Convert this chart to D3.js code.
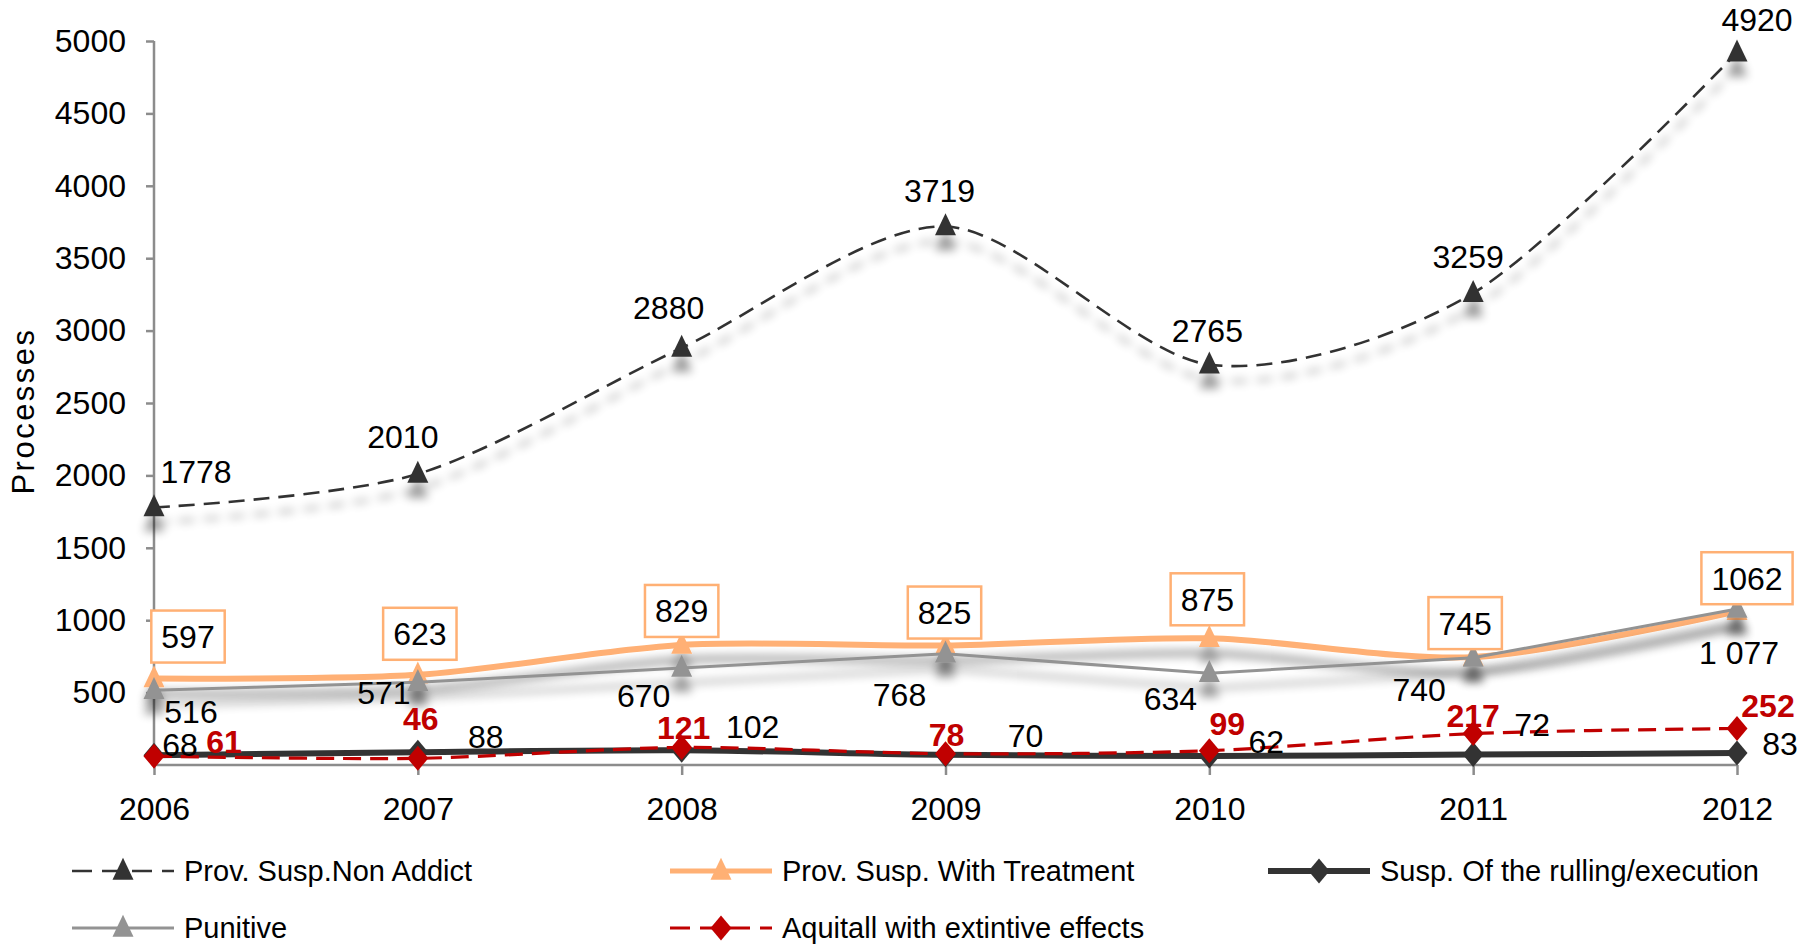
<!DOCTYPE html>
<html>
<head>
<meta charset="utf-8">
<script src="https://cdn.jsdelivr.net/npm/d3@7/dist/d3.min.js"></script>
<style>
  html, body { margin: 0; padding: 0; background: #fff; }
  svg { display: block; font-family: "Liberation Sans", Arial, sans-serif; }
</style>
</head>
<body>
<svg id="chart" width="1811" height="944"></svg>
<script>
// ---------- data ----------
const years = ["2006", "2007", "2008", "2009", "2010", "2011", "2012"];
const nonAddict = [1778, 2010, 2880, 3719, 2765, 3259, 4920];
const withTreatment = [597, 623, 829, 825, 875, 745, 1062];
const rulling = [68, 88, 102, 70, 62, 72, 83];
const punitive = [516, 571, 670, 768, 634, 740, 1077];
const punitiveLabels = ["516", "571", "670", "768", "634", "740", "1 077"];
const aquitall = [61, 46, 121, 78, 99, 217, 252];
const yTicks = [500, 1000, 1500, 2000, 2500, 3000, 3500, 4000, 4500, 5000];
const seriesNames = ["Prov. Susp.Non Addict", "Prov. Susp. With Treatment", "Susp. Of the rulling/execution", "Punitive", "Aquitall with extintive effects"];

// ---------- label placement (offsets from the point, px) ----------
const nonAddictNudge = [[42, -36], [-15, -37], [-13, -40], [-6, -36], [-2, -34], [-5, -37], [20, -33]];
const treatmentNudge = [[34, -42], [2, -41], [0, -34], [-1, -33], [-2, -39], [-8, -34], [10, -33]];
const punitiveNudge = [[37, 21], [-34, 10], [-38, 27], [-46, 41], [-39, 25], [-54, 32], [2, 43]];
const rullingNudge = [[26, -11], [68, -16], [71, -24], [80, -19], [57, -15], [59, -30], [43, -10]];
const aquitallNudge = [[70, -15], [3, -40], [2, -20], [1, -19], [18, -27], [0, -18], [31, -23]];

// ---------- setup ----------
const svg = d3.select("#chart");
const x = d3.scalePoint().domain(years).range([154, 1737]);
const y = d3.scaleLinear().domain([0, 5000]).range([765, 41]);

const defs = svg.append("defs");
const f = defs.append("filter").attr("id", "shadow")
  .attr("x", "-10%").attr("y", "-20%").attr("width", "120%").attr("height", "160%");
f.append("feGaussianBlur").attr("in", "SourceAlpha").attr("stdDeviation", 5).attr("result", "b");
f.append("feOffset").attr("in", "b").attr("dy", 15).attr("result", "o");
const ct = f.append("feComponentTransfer").attr("in", "o").attr("result", "s");
ct.append("feFuncA").attr("type", "linear").attr("slope", 0.4);
const fm = f.append("feMerge");
fm.append("feMergeNode").attr("in", "s");
fm.append("feMergeNode").attr("in", "SourceGraphic");

const COL = {
  dark: "#333333",
  orange: "#FFB074",
  gray: "#939393",
  red: "#C00000"
};

function triPath(cx, cy, w, h) {
  return `M${cx},${cy - h * 0.6}L${cx + w / 2},${cy + h * 0.4}L${cx - w / 2},${cy + h * 0.4}Z`;
}
function diaPath(cx, cy, w, h) {
  return `M${cx},${cy - h / 2}L${cx + w / 2},${cy}L${cx},${cy + h / 2}L${cx - w / 2},${cy}Z`;
}

// ---------- axes ----------
const yAxis = d3.axisLeft(y).tickValues(yTicks).tickSize(8).tickPadding(20).tickFormat(d3.format("d"));
const gy = svg.append("g").attr("transform", "translate(154,0)").call(yAxis);
gy.select(".domain").attr("stroke", "#8c8c8c").attr("stroke-width", 2.5).attr("d", `M0,${y(5000)}V${y(0)}`);
gy.selectAll(".tick line").attr("stroke", "#8c8c8c").attr("stroke-width", 2.5);
gy.selectAll(".tick text").attr("fill", "#000").attr("font-size", 32).attr("font-family", "Liberation Sans, Arial, sans-serif");

const xAxis = d3.axisBottom(x).tickSize(10).tickPadding(22);
const gx = svg.append("g").attr("transform", `translate(0,${y(0)})`).call(xAxis);
gx.select(".domain").attr("stroke", "#8c8c8c").attr("stroke-width", 2.5).attr("d", `M${x("2006")},0H${x("2012")}`);
gx.selectAll(".tick line").attr("stroke", "#8c8c8c").attr("stroke-width", 2.5);
gx.selectAll(".tick text").attr("fill", "#000").attr("font-size", 32).attr("font-family", "Liberation Sans, Arial, sans-serif");

svg.append("text")
  .attr("transform", `translate(34,411) rotate(-90)`)
  .attr("text-anchor", "middle")
  .attr("font-size", 31)
  .attr("letter-spacing", 2.5)
  .attr("fill", "#000")
  .text("Processes");

// ---------- lines ----------
const smooth = d3.line().x((d, i) => x(years[i])).y(d => y(d)).curve(d3.curveCardinal.tension(0.15));
const straight = d3.line().x((d, i) => x(years[i])).y(d => y(d));

const plot = svg.append("g");

// Non addict
const gNA = plot.append("g").attr("filter", "url(#shadow)");
gNA.append("path").attr("d", smooth(nonAddict)).attr("fill", "none")
  .attr("stroke", COL.dark).attr("stroke-width", 2.6).attr("stroke-dasharray", "16,9");
gNA.selectAll("path.m").data(nonAddict).join("path").attr("class", "m")
  .attr("d", (d, i) => triPath(x(years[i]), y(d), 21, 22)).attr("fill", COL.dark);

// With treatment
const gWT = plot.append("g").attr("filter", "url(#shadow)");
gWT.append("path").attr("d", smooth(withTreatment)).attr("fill", "none")
  .attr("stroke", COL.orange).attr("stroke-width", 6);
gWT.selectAll("path.m").data(withTreatment).join("path").attr("class", "m")
  .attr("d", (d, i) => triPath(x(years[i]), y(d), 21, 22)).attr("fill", COL.orange);

// Rulling
const gR = plot.append("g");
gR.append("path").attr("d", smooth(rulling)).attr("fill", "none")
  .attr("stroke", COL.dark).attr("stroke-width", 6);
gR.selectAll("path.m").data(rulling).join("path").attr("class", "m")
  .attr("d", (d, i) => diaPath(x(years[i]), y(d), 21, 25)).attr("fill", COL.dark);

// Punitive
const gP = plot.append("g").attr("filter", "url(#shadow)");
gP.append("path").attr("d", straight(punitive)).attr("fill", "none")
  .attr("stroke", COL.gray).attr("stroke-width", 3);
gP.selectAll("path.m").data(punitive).join("path").attr("class", "m")
  .attr("d", (d, i) => triPath(x(years[i]), y(d), 21, 22)).attr("fill", COL.gray);

// Aquitall
const gA = plot.append("g");
gA.append("path").attr("d", smooth(aquitall)).attr("fill", "none")
  .attr("stroke", COL.red).attr("stroke-width", 3.2).attr("stroke-dasharray", "18,9");
gA.selectAll("path.m").data(aquitall).join("path").attr("class", "m")
  .attr("d", (d, i) => diaPath(x(years[i]), y(d), 21, 25)).attr("fill", COL.red);

// ---------- labels ----------
const labels = svg.append("g").attr("font-size", 32).attr("text-anchor", "middle");

function addLabels(vals, texts, nudge, color, weight) {
  labels.append("g").selectAll("text").data(vals).join("text")
    .attr("x", (d, i) => x(years[i]) + nudge[i][0])
    .attr("y", (d, i) => y(d) + nudge[i][1])
    .attr("dy", "0.36em")
    .attr("fill", color)
    .attr("font-weight", weight)
    .text((d, i) => texts ? texts[i] : d);
}
addLabels(nonAddict, null, nonAddictNudge, "#000", "normal");

// boxed labels
const boxG = labels.append("g");
withTreatment.forEach((v, i) => {
  const cx = x(years[i]) + treatmentNudge[i][0];
  const cy = y(v) + treatmentNudge[i][1];
  const t = String(v);
  const w = t.length * 17.8 + 20;
  boxG.append("rect").attr("x", cx - w / 2).attr("y", cy - 26).attr("width", w).attr("height", 52)
    .attr("fill", "#fff").attr("stroke", COL.orange).attr("stroke-width", 2.5);
  boxG.append("text").attr("x", cx).attr("y", cy).attr("dy", "0.36em").attr("fill", "#000").text(t);
});

addLabels(punitive, punitiveLabels, punitiveNudge, "#000", "normal");
addLabels(rulling, null, rullingNudge, "#000", "normal");
addLabels(aquitall, null, aquitallNudge, COL.red, "bold");

// ---------- legend ----------
const legendItems = [
  { name: seriesNames[0], x: 72, y: 871, color: COL.dark, w: 2.6, dash: "20,10", sym: "tri" },
  { name: seriesNames[1], x: 670, y: 871, color: COL.orange, w: 5, dash: null, sym: "tri" },
  { name: seriesNames[2], x: 1268, y: 871, color: COL.dark, w: 6, dash: null, sym: "dia" },
  { name: seriesNames[3], x: 72, y: 928, color: COL.gray, w: 3, dash: null, sym: "tri" },
  { name: seriesNames[4], x: 670, y: 928, color: COL.red, w: 3.2, dash: "20,10", sym: "dia" }
];
const lg = svg.append("g");
legendItems.forEach(it => {
  const g = lg.append("g");
  g.append("line").attr("x1", it.x).attr("x2", it.x + 102).attr("y1", it.y).attr("y2", it.y)
    .attr("stroke", it.color).attr("stroke-width", it.w).attr("stroke-dasharray", it.dash);
  const cx = it.x + 51;
  g.append("path").attr("d", it.sym === "tri" ? triPath(cx, it.y, 21, 22) : diaPath(cx, it.y, 21, 25))
    .attr("fill", it.color);
  g.append("text").attr("x", it.x + 112).attr("y", it.y).attr("dy", "0.36em")
    .attr("font-size", 29).attr("fill", "#000").text(it.name);
});
</script>
</body>
</html>
